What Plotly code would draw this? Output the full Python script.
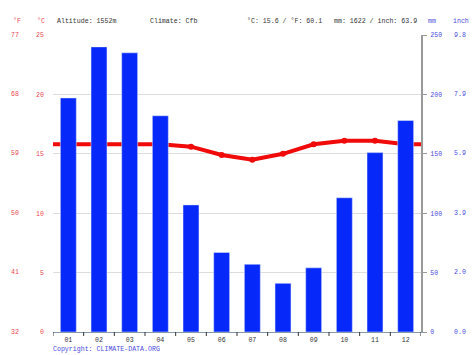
import plotly.graph_objects as go

months = ["01", "02", "03", "04", "05", "06", "07", "08", "09", "10", "11", "12"]
precip_mm = [197, 240, 235, 182, 107, 67, 57, 41, 54, 113, 151, 178]
temp_c = [15.8, 15.8, 15.8, 15.8, 15.6, 14.9, 14.5, 15.0, 15.8, 16.1, 16.1, 15.8]
c_ticks = [0, 5, 10, 15, 20, 25]
f_labels = ["32", "41", "50", "59", "68", "77"]
mm_ticks = [0, 50, 100, 150, 200, 250]
inch_labels = ["0.0", "2.0", "3.9", "5.9", "7.9", "9.8"]

FONT = "Liberation Mono"
FS = 6.6
RED = "#e8474f"
BLUE = "#4a4ae0"

L, R, T, B = 53, 421, 35, 332
PW, PH = R - L, B - T

x_idx = list(range(len(months)))

fig = go.Figure()
fig.add_trace(go.Bar(x=x_idx, y=precip_mm, yaxis="y2", marker_color="#0628f8",
                     width=0.52, hoverinfo="skip"))
# line extended to plot edges
fig.add_trace(go.Scatter(x=[-0.5] + x_idx + [len(months) - 0.5],
                         y=[temp_c[0]] + temp_c + [temp_c[-1]],
                         mode="lines", line=dict(color="#f00a0a", width=4),
                         hoverinfo="skip"))
fig.add_trace(go.Scatter(x=x_idx, y=temp_c, mode="markers",
                         marker=dict(color="#f00a0a", size=6), hoverinfo="skip"))

anns = []
for v, lab in zip(c_ticks, f_labels):
    anns.append(dict(xref="paper", yref="y", x=(21 - L) / PW, y=v, xanchor="right",
                     text=lab, showarrow=False, font=dict(family=FONT, size=FS, color=RED)))
for v, lab in zip(mm_ticks, inch_labels):
    anns.append(dict(xref="paper", yref="y2", x=(452 - L) / PW, y=v, xanchor="left",
                     text=lab, showarrow=False, font=dict(family=FONT, size=FS, color=BLUE)))

header = [
    (13, "°F", RED), (37, "°C", RED), (57, "Altitude: 1552m", "#333"),
    (150, "Climate: Cfb", "#333"), (247, "°C: 15.6 / °F: 60.1", "#333"),
    (334, "mm: 1622 / inch: 63.9", "#333"), (428, "mm", BLUE), (453, "inch", BLUE),
]
for px, txt, col in header:
    anns.append(dict(xref="paper", yref="paper", x=(px - L) / PW, y=(B - 21) / PH,
                     yanchor="middle", xanchor="left", text=txt, showarrow=False,
                     xshift=-2, font=dict(family=FONT, size=FS, color=col)))
anns.append(dict(xref="paper", yref="paper", x=0, y=-(349 - B) / PH, yanchor="middle",
                 xanchor="left", text="Copyright: CLIMATE-DATA.ORG", showarrow=False,
                 xshift=-2, font=dict(family=FONT, size=FS, color=BLUE)))

fig.update_layout(
    width=474, height=355,
    margin=dict(l=L, r=474 - R, t=T, b=355 - B),
    paper_bgcolor="white", plot_bgcolor="white",
    showlegend=False,
    annotations=anns,
    xaxis=dict(range=[-0.5, len(months) - 0.5], tickmode="array", tickvals=x_idx,
               ticktext=months, showgrid=False, showline=True, linecolor="#8899aa",
               ticks="", tickfont=dict(family=FONT, size=FS, color="#333"), zeroline=False,
               ticklabelstandoff=1, fixedrange=True),
    yaxis=dict(range=[0, 25], tickmode="array", tickvals=c_ticks,
               ticktext=[str(v) for v in c_ticks], showgrid=True, gridcolor="#dddddd",
               zeroline=False, tickfont=dict(family=FONT, size=FS, color=RED),
               ticklabelstandoff=8, showline=False),
    yaxis2=dict(range=[0, 250], overlaying="y", side="right", tickmode="array",
                tickvals=mm_ticks, ticktext=[str(v) for v in mm_ticks], showgrid=False,
                zeroline=False, showline=True, linecolor="#999999", linewidth=2,
                ticks="outside", ticklen=4, tickcolor="#999999",
                tickfont=dict(family=FONT, size=FS, color=BLUE), ticklabelstandoff=2),
)
# boundary ticks on x axis
for i in range(len(months) + 1):
    fig.add_shape(type="line", xref="x", yref="paper", x0=i - 0.5, x1=i - 0.5,
                  y0=0, y1=-4 / PH, line=dict(color="#333", width=1))

fig.write_html("out.html", config={"displayModeBar": False},
               post_script="document.body.style.margin='0';document.body.style.overflow='hidden';")
